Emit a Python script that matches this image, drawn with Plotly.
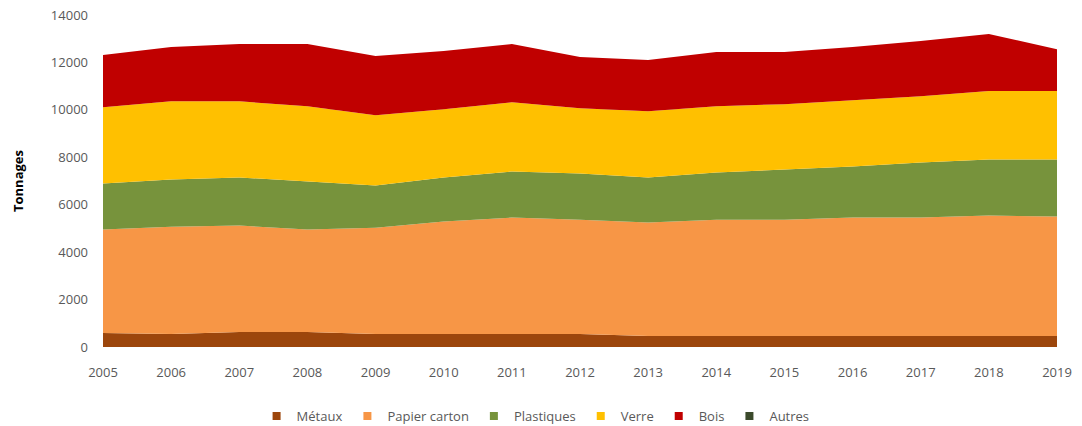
import plotly.graph_objects as go

years = list(range(2005, 2020))
metaux = [590, 550, 635, 635, 550, 550, 550, 550, 465, 465, 465, 465, 465, 465, 465]
papier_carton = [4360, 4525, 4485, 4315, 4480, 4740, 4910, 4820, 4780, 4905, 4905, 4995, 4995, 5075, 5035]
plastiques = [1945, 1990, 2030, 2030, 1780, 1860, 1940, 1950, 1905, 1990, 2120, 2150, 2320, 2370, 2410]
verre = [3215, 3295, 3210, 3170, 2960, 2875, 2920, 2750, 2790, 2790, 2750, 2790, 2795, 2880, 2880]
bois = [2200, 2290, 2415, 2625, 2500, 2455, 2455, 2155, 2160, 2290, 2200, 2250, 2325, 2410, 1770]
autres = [0] * 15
y_ticks = list(range(0, 14001, 2000))

series = [
    ("Métaux", metaux, "#9C460C"),
    ("Papier carton", papier_carton, "#F79646"),
    ("Plastiques", plastiques, "#77933C"),
    ("Verre", verre, "#FFC000"),
    ("Bois", bois, "#C00000"),
    ("Autres", autres, "#3B4A2B"),
]

fig = go.Figure()
for name, vals, col in series:
    fig.add_trace(go.Scatter(
        x=years, y=vals, name=name, mode="lines", stackgroup="one",
        line=dict(width=0, color=col), fillcolor=col, showlegend=False,
        legendgroup=name,
    ))
# legend entries with square markers
for name, vals, col in series:
    fig.add_trace(go.Scatter(
        x=[None], y=[None], name=name, mode="markers", legendgroup=name,
        marker=dict(symbol="square", size=8, color=col), showlegend=True,
    ))

fig.update_layout(
    width=1082, height=426,
    margin=dict(l=103, r=25, t=15, b=79, autoexpand=False),
    paper_bgcolor="white", plot_bgcolor="white",
    font=dict(family="Open Sans, Liberation Sans, Arial", size=13, color="#595959"),
    showlegend=True,
    legend=dict(orientation="h", xref="container", x=0.495, xanchor="center",
                yref="container", y=(426 - 416) / 426, yanchor="middle",
                font=dict(size=13, color="#595959"), itemwidth=30, traceorder="normal"),
    xaxis=dict(range=[2005, 2019], tickmode="array", tickvals=years,
               ticktext=[str(y) for y in years], showgrid=False, zeroline=False,
               showline=False, ticks="", ticklabelstandoff=16, automargin=False),
    yaxis=dict(range=[0, 14000], tickmode="array",
               tickvals=y_ticks, ticktext=[str(v) for v in y_ticks], showgrid=True,
               gridcolor="#D9D9D9", zeroline=False, showline=False, ticks="",
               ticklabelstandoff=14, automargin=False,
               title=dict(text="<b>Tonnages</b>", font=dict(size=13, color="#000000"), standoff=24)),
)

fig.write_html("out.html", config={"displayModeBar": False},
               post_script="document.body.style.margin='0';document.body.style.overflow='hidden';")
